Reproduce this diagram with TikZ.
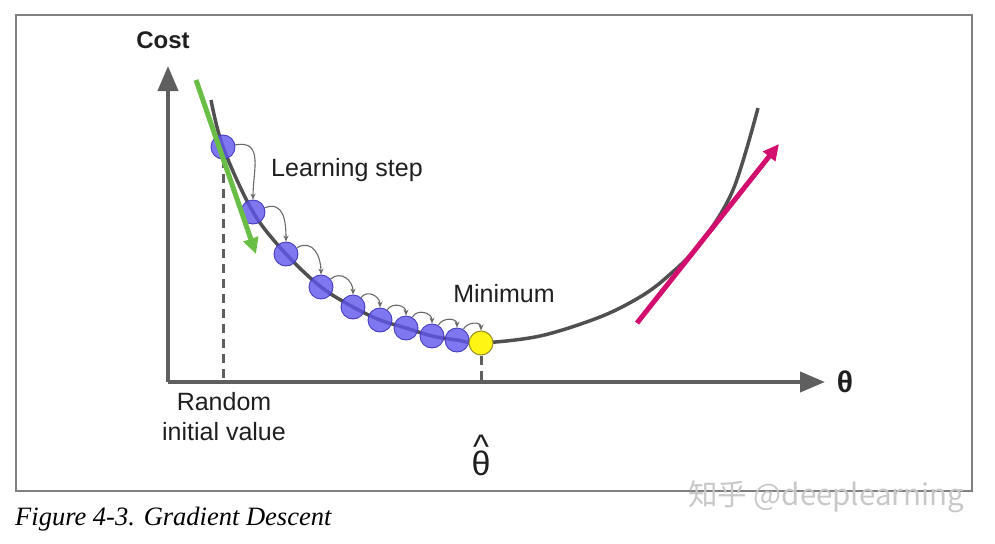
\documentclass[tikz,border=0pt]{standalone}
\usepackage{fontspec}
\usepackage{graphicx}
\setmainfont{Liberation Sans}
\newfontfamily\capfont{Liberation Serif}
\newfontfamily\cjkfont{Noto Sans CJK SC}
\usetikzlibrary{arrows.meta}
\definecolor{framegray}{RGB}{128,128,128}
\definecolor{axisgray}{RGB}{95,95,95}
\definecolor{curvegray}{RGB}{80,80,80}
\definecolor{ballblue}{RGB}{95,85,235}
\definecolor{balledge}{RGB}{70,60,190}
\definecolor{ballyellow}{RGB}{255,245,20}
\definecolor{yedge}{RGB}{150,140,40}
\definecolor{gradgreen}{RGB}{105,190,70}
\definecolor{gradpink}{RGB}{210,15,110}
\definecolor{stepgray}{RGB}{105,105,105}
\definecolor{wmgray}{RGB}{200,200,200}
\begin{document}
\begin{tikzpicture}[x=1pt,y=-1pt,
  lbl/.style={inner sep=0pt, font=\fontsize{25}{30}\selectfont, text=black!88},
  axisline/.style={draw=axisgray, line width=4pt, -{Triangle[length=25pt,width=20pt]}},
  costcurve/.style={draw=curvegray, line width=3.5pt},
  ball/.style={circle, minimum size=24pt, inner sep=0pt, fill=ballblue, fill opacity=0.8, draw=balledge, line width=0.9pt},
  yball/.style={circle, minimum size=24pt, inner sep=0pt, fill=ballyellow, draw=yedge, line width=1pt},
  stepar/.style={draw=stepgray, line width=1.1pt, -{Stealth[length=6pt,width=5pt]}},
  guide/.style={draw=axisgray, line width=3pt, dash pattern=on 9pt off 6pt},
  gradar/.style={line width=5pt, -{Triangle[length=16pt,width=15pt]}}
]
\useasboundingbox (0,0) rectangle (995,543);
% frame
\draw[draw=framegray, line width=1.8pt] (16,15) rectangle (972,491);
% axes
\coordinate (O) at (168,382);
\coordinate (ytip) at (168,66);
\coordinate (xtip) at (825,382);
\draw[axisline] (O) -- (ytip);
\draw[axisline] (O) -- (xtip);
\node[lbl, font=\fontsize{24}{28}\selectfont\bfseries] (cost) at (163,40) {Cost};
\node[lbl, font=\fontsize{30}{32}\selectfont\bfseries] (theta) at (845,382) {θ};
% cost curve
\draw[costcurve] plot[smooth, tension=0.55] coordinates {(211,100) (223,147) (253,212) (286,254) (321,287) (353,307) (380,320) (406,328) (432,336) (457,340) (481,343) (540,336) (600,317) (640,297) (667,277) (700,244) (733,190) (758,108)};
% balls
\node[ball] (b1) at (223,147) {};
\node[ball] (b2) at (253,212) {};
\node[ball] (b3) at (286,254) {};
\node[ball] (b4) at (321,287) {};
\node[ball] (b5) at (353,307) {};
\node[ball] (b6) at (380,320) {};
\node[ball] (b7) at (406,328) {};
\node[ball] (b8) at (432,336) {};
\node[ball] (b9) at (457,340) {};
\node[yball] (ymin) at (481,343) {};
% guide lines
\draw[guide] (b1.south) -- (b1.south |- O);
\draw[guide] (ymin.south) -- (ymin.south |- O);
% learning steps
\foreach \a/\b/\o in {b1/b2/10, b2/b3/20, b3/b4/30, b4/b5/40, b5/b6/50, b6/b7/55, b7/b8/60, b8/b9/60, b9/ymin/60}
  \draw[stepar] (\a.\o) to[out=\o, in=90, looseness=1.3] (\b.north);
% gradient arrows
\coordinate (g0) at (196,80);
\coordinate (g1) at (256,254);
\draw[gradar, draw=gradgreen, color=gradgreen] (g0) -- (g1);
\coordinate (p0) at (637,323);
\coordinate (p1) at (779,144);
\draw[gradar, draw=gradpink, color=gradpink] (p0) -- (p1);
% labels
\node[lbl, anchor=west] (learn) at (271,170) {Learning step};
\node[lbl] (minimum) at (504,294) {Minimum};
\node[lbl] (random) at (224,402) {Random};
\node[lbl] (initial) at (224,432) {initial value};
\node[lbl, anchor=base, font=\fontsize{34}{36}\selectfont] (thetahat) at (481,475)
  {\ooalign{θ\cr\hidewidth\raisebox{17pt}{\textasciicircum}\hidewidth\cr}};
% caption
\node[inner sep=0pt, anchor=base west, font=\capfont\itshape\fontsize{26.5}{30}\selectfont] (caption) at (15,525) {Figure 4-3. Gradient Descent};
% watermark
\node[inner sep=0pt, anchor=west, text=wmgray, font=\cjkfont\fontsize{29.5}{32}\selectfont] (wm) at (688,497) {知乎 @deeplearning};
\end{tikzpicture}
\end{document}
